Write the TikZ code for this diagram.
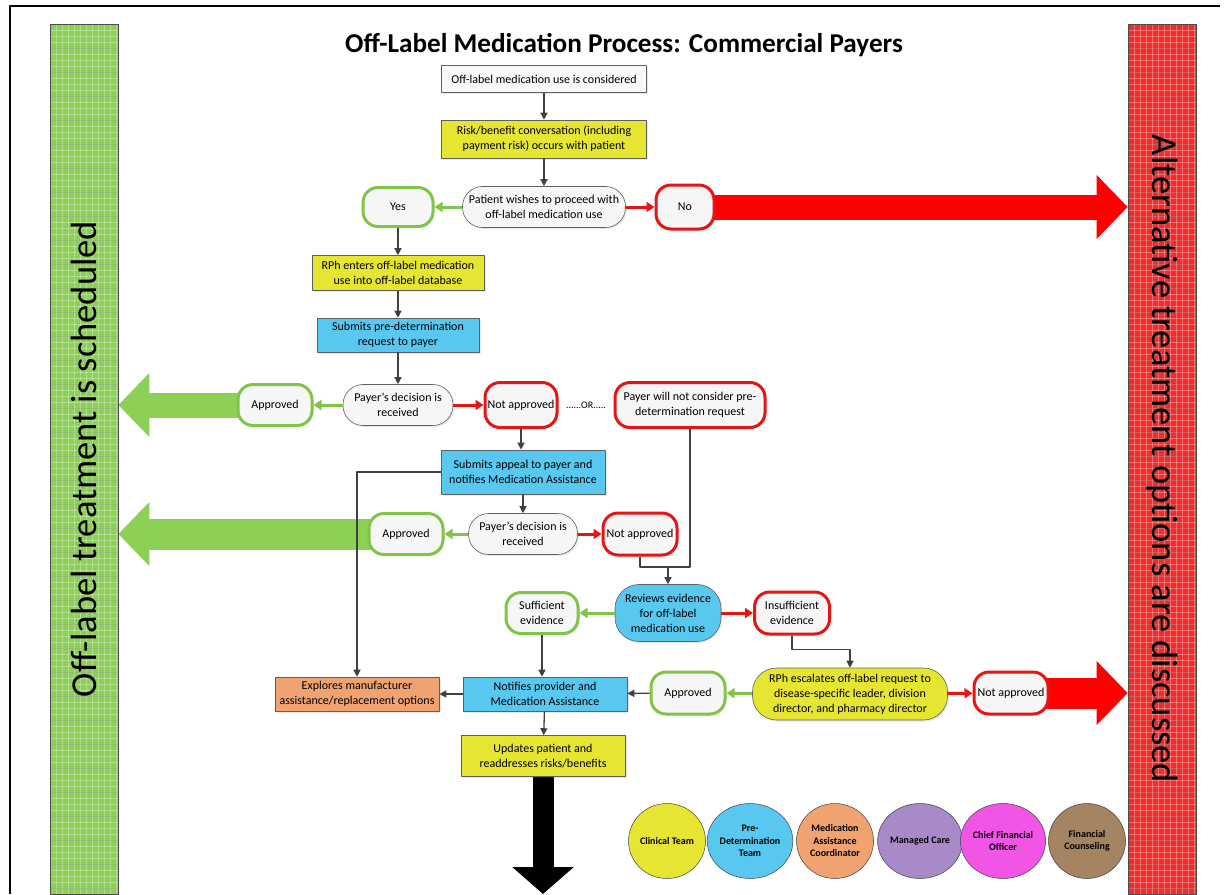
\documentclass[tikz,border=0pt]{standalone}
\usepackage{fontspec}
\setmainfont{Carlito}
\usetikzlibrary{arrows.meta,backgrounds,shadows,shapes.geometric}
\definecolor{boxyellow}{RGB}{230,230,50}
\definecolor{boxblue}{RGB}{88,200,240}
\definecolor{boxorange}{RGB}{240,163,112}
\definecolor{okgreen}{RGB}{128,196,72}
\definecolor{nored}{RGB}{230,20,20}
\definecolor{bargreen}{RGB}{140,208,85}
\definecolor{barred}{RGB}{240,45,45}
\definecolor{flowgray}{RGB}{64,64,64}
\definecolor{legpurple}{RGB}{168,138,200}
\definecolor{legpink}{RGB}{240,85,230}
\definecolor{legbrown}{RGB}{165,132,98}
\begin{document}
\begin{tikzpicture}[x=1pt,y=-1pt,line join=round,font=\fontsize{12}{15}\selectfont,
  box/.style={draw=gray!75!black,line width=.6pt,align=center,inner sep=1pt,
    drop shadow={opacity=.18,shadow xshift=1.5pt,shadow yshift=-1.5pt}},
  oval/.style={box,rounded corners=#1,fill=gray!7},
  yes/.style={oval=15,draw=okgreen,line width=3pt},
  nope/.style={oval=15,draw=nored,line width=3pt},
  flow/.style={draw=flowgray,line width=1.3pt,-{Triangle[length=7pt,width=7pt]}},
  goflow/.style={draw=okgreen,line width=3pt,-{Triangle[length=8pt,width=10pt]}},
  stopflow/.style={draw=nored,line width=3pt,-{Triangle[length=8pt,width=10pt]}},
  bigarrow/.style={line width=#1,-{Triangle[length=31pt,width=62pt]}},
  sidebar/.style={draw=gray!60!black,line width=.6pt,fill=#1,minimum width=68,minimum height=870,inner sep=0,
    path picture={
      \foreach \k in {0,6,...,870}
        \draw[white,opacity=.3,line width=.5pt] ([yshift=-\k pt]path picture bounding box.north west) -- ([yshift=-\k pt]path picture bounding box.north east);
      \foreach \k in {0,6,...,66}
        \draw[white,opacity=.3,line width=.5pt] ([xshift=\k pt]path picture bounding box.north west) -- ([xshift=\k pt]path picture bounding box.south west);
      \foreach \k in {0,24,...,870}
        \draw[black,opacity=.15,line width=.4pt] ([yshift=-\k pt]path picture bounding box.north west) -- ([yshift=-\k pt]path picture bounding box.north east);}},
  sidetext/.style={font=\fontsize{36.5}{40}\selectfont},
  team/.style={ellipse,draw=gray!50!black,line width=.5pt,minimum width=77,minimum height=75,inner sep=0,align=center,
    font=\fontsize{10}{12.5}\selectfont\bfseries}]
\useasboundingbox (0,0) rectangle (1225,894);
\draw[line width=2.5pt] (10,894) -- (10,6) -- (1220,6);

\node[sidebar=bargreen] (lbar) at (84,459) {};
\node[sidebar=barred] (rbar) at (1162,459) {};
\node[sidetext,rotate=90] (lbartext) at (lbar.center) {Off-label treatment is scheduled};
\node[sidetext,rotate=-90] (rbartext) at (rbar.center) {Alternative treatment options are discussed};

\node[font=\fontsize{27.2}{30}\selectfont\bfseries] (title) at (624,45) {Off-Label Medication Process: Commercial Payers};

\node[box,fill=gray!5,minimum width=205,minimum height=27] (t1) at (544,79) {Off-label medication use is considered};
\node[box,fill=boxyellow,minimum width=205,minimum height=38] (t2) at (544,139) {Risk/benefit conversation (including\\payment risk) occurs with patient};
\node[oval=20,minimum width=163,minimum height=41] (wish) at (544,207) {Patient wishes to proceed with\\off-label medication use};
\node[yes,minimum width=70,minimum height=39] (yes) at (398,207) {Yes};
\node[nope,minimum width=58,minimum height=44] (no) at (685,207) {No};
\node[box,fill=boxyellow,minimum width=172,minimum height=35] (rph) at (398,273) {RPh enters off-label medication\\use into off-label database};
\node[box,fill=boxblue,minimum width=162,minimum height=34] (pre) at (398,335) {Submits pre-determination\\request to payer};
\node[oval=20,minimum width=110,minimum height=41] (dec2) at (398,405) {Payer's decision is\\received};
\node[yes,minimum width=74,minimum height=41] (ap1) at (275,405) {Approved};
\node[nope,minimum width=72,minimum height=45,inner sep=0] (na1) at (521,405) {Not approved};
\node[font=\fontsize{10}{11}\selectfont] (or) at (586,405) {......OR.....};
\node[nope,minimum width=150,minimum height=45] (wont) at (690,405) {Payer will not consider pre-\\determination request};
\node[box,fill=boxblue,minimum width=164,minimum height=44] (app) at (523,472) {Submits appeal to payer and\\notifies Medication Assistance};
\node[oval=20,minimum width=109,minimum height=41] (dec3) at (523,534) {Payer's decision is\\received};
\node[yes,minimum width=74,minimum height=41] (ap2) at (406,534) {Approved};
\node[nope,minimum width=74,minimum height=42,inner sep=0] (na2) at (640,534) {Not approved};
\node[oval=24,fill=boxblue,minimum width=106,minimum height=57] (rev) at (668,613) {Reviews evidence\\for off-label\\medication use};
\node[yes,minimum width=72,minimum height=41] (suf) at (542,613) {Sufficient\\evidence};
\node[nope,minimum width=75,minimum height=42] (insuf) at (792,613) {Insufficient\\evidence};
\node[oval=24,fill=boxyellow,minimum width=195,minimum height=52] (esc) at (850,694) {RPh escalates off-label request to\\disease-specific leader, division\\director, and pharmacy director};
\node[yes,minimum width=74,minimum height=42] (ap3) at (688,693) {Approved};
\node[nope,minimum width=74,minimum height=42,inner sep=0] (na3) at (1011,693) {Not approved};
\node[box,fill=boxblue,minimum width=164,minimum height=34] (note) at (545,694) {Notifies provider and\\Medication Assistance};
\node[box,fill=boxorange,minimum width=164,minimum height=34] (expl) at (357,694) {Explores manufacturer\\assistance/replacement options};
\node[box,fill=boxyellow,minimum width=164,minimum height=41] (upd) at (543,756) {Updates patient and\\readdresses risks/benefits};
\coordinate (merge) at (668,567);
\coordinate (pagefoot) at (543,894);

\begin{scope}[on background layer]
\draw[bigarrow=25pt,draw=bargreen] (ap1.center) -- (ap1.center -| lbar.east);
\draw[bigarrow=31pt,draw=bargreen] (ap2.center) -- (ap2.center -| lbar.east);
\draw[bigarrow=25pt,draw=red] (no.center) -- (no.center -| rbar.west);
\draw[bigarrow=31pt,draw=red] (na3.center) -- (na3.center -| rbar.west);
\draw[line width=21pt,-{Triangle[length=27pt,width=60pt]}] (upd.center) -- (pagefoot);
\end{scope}

\draw[flow] (t1) -- (t2);
\draw[flow] (t2) -- (wish);
\draw[goflow] (wish) -- (yes);
\draw[stopflow] (wish) -- (no);
\draw[flow] (yes) -- (rph);
\draw[flow] (rph) -- (pre);
\draw[flow] (pre) -- (dec2);
\draw[goflow] (dec2) -- (ap1);
\draw[stopflow] (dec2) -- (na1);
\draw[flow] (na1.south) -- (na1.south |- app.north);
\draw[flow] (app) -- (dec3);
\draw[flow] (app.west) -| (expl.north);
\draw[goflow] (dec3) -- (ap2);
\draw[stopflow] (dec3) -- (na2);
\draw[flow] (na2.south) |- (merge) -- (rev.north);
\draw[draw=flowgray,line width=1.3pt] (wont.south) |- (merge);
\draw[goflow] (rev) -- (suf);
\draw[stopflow] (rev) -- (insuf);
\draw[flow] (insuf.south) -- ++(0,14) -| (esc.north);
\draw[flow] (suf.south) -- (suf.south |- note.north);
\draw[goflow] (esc) -- (ap3);
\draw[stopflow] (esc) -- (na3);
\draw[flow] (ap3) -- (note);
\draw[flow] (note) -- (expl);
\draw[flow] (note) -- (upd);

\foreach \x/\c/\t [count=\i] in {667/boxyellow/Clinical Team,750/boxblue/Pre-\\Determination\\Team,835/boxorange/Medication\\Assistance\\Coordinator,920/legpurple/Managed Care,1003/legpink/Chief Financial\\Officer,1087/legbrown/Financial\\Counseling}
  \node[team,fill=\c] (team\i) at (\x,841) {\t};
\end{tikzpicture}
\end{document}
